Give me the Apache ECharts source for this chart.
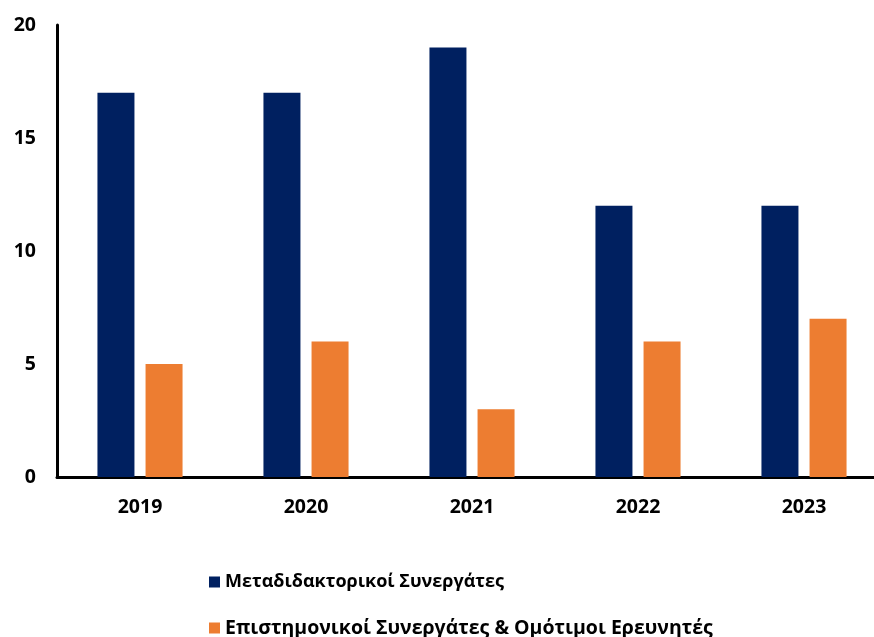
<!DOCTYPE html>
<html><head><meta charset="utf-8">
<script src="https://cdn.jsdelivr.net/npm/echarts@6/dist/echarts.min.js"></script>
<style>html,body{margin:0;padding:0;background:#fff}#c{width:874px;height:637px}</style>
</head><body><div id="c"></div>
<script>
const categories = ['2019','2020','2021','2022','2023'];
const seriesNames = ['Μεταδιδακτορικοί Συνεργάτες','Επιστημονικοί Συνεργάτες & Ομότιμοι Ερευνητές'];
const postdocValues = [17,17,19,12,12];
const scientificValues = [5,6,3,6,7];
const colors = ['#002060','#ED7D31'];
const font = '"Open Sans", Lato, sans-serif';
const legendText = {fontFamily:font,fontWeight:'bold',fontSize:18,color:'#000'};
const chart = echarts.init(document.getElementById('c'));
chart.setOption({
  animation:false,
  color:colors,
  grid:{left:57,width:830,top:25,bottom:160,outerBoundsMode:'none'},
  legend:[
    {data:[seriesNames[0]],left:204,top:568,itemWidth:11,itemHeight:11,icon:'rect',itemGap:8,textStyle:legendText},
    {data:[seriesNames[1]],left:204,top:613,itemWidth:11,itemHeight:11,icon:'rect',itemGap:8,textStyle:Object.assign({},legendText,{fontSize:19.5})}
  ],
  xAxis:{type:'category',data:categories,
    axisLine:{lineStyle:{color:'#000',width:3}},axisTick:{show:false},
    axisLabel:{fontFamily:font,fontWeight:'bold',fontSize:19.5,color:'#000',margin:20}},
  yAxis:{type:'value',min:0,max:20,interval:5,
    axisLine:{show:true,lineStyle:{color:'#000',width:3}},axisTick:{show:false},splitLine:{show:false},
    axisLabel:{fontFamily:font,fontWeight:'bold',fontSize:19.5,color:'#000',margin:21}},
  series:[
    {name:seriesNames[0],type:'bar',data:postdocValues,barWidth:37,barGap:'30%'},
    {name:seriesNames[1],type:'bar',data:scientificValues,barWidth:37,barGap:'30%'}
  ]
});
</script></body></html>
